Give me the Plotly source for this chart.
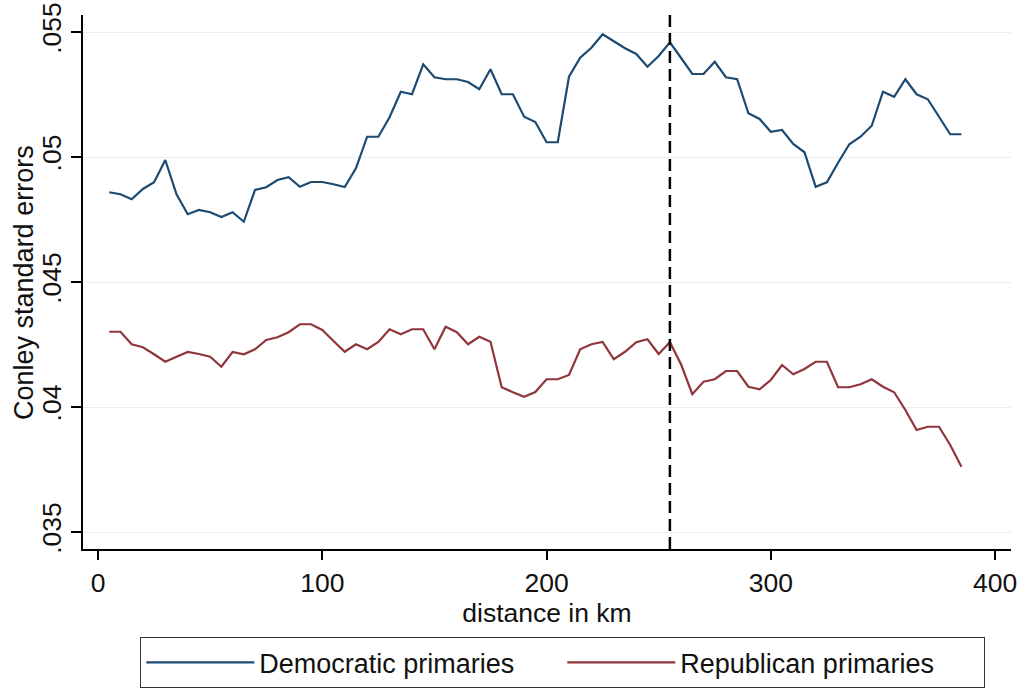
import plotly.graph_objects as go

distance_km = [5, 10, 15, 20, 25, 30, 35, 40, 45, 50, 55, 60, 65, 70, 75, 80, 85, 90, 95, 100,
               105, 110, 115, 120, 125, 130, 135, 140, 145, 150, 155, 160, 165, 170, 175, 180,
               185, 190, 195, 200, 205, 210, 215, 220, 225, 230, 235, 240, 245, 250, 255, 260,
               265, 270, 275, 280, 285, 290, 295, 300, 305, 310, 315, 320, 325, 330, 335, 340,
               345, 350, 355, 360, 365, 370, 375, 380, 385]

democratic_se = [0.04859, 0.04851, 0.04831, 0.04872, 0.04899, 0.04988, 0.04851, 0.04771, 0.04788, 0.04779,
                 0.04760, 0.04779, 0.04741, 0.04868, 0.04879, 0.04908, 0.04919, 0.04881, 0.04900, 0.04900,
                 0.04891, 0.04880, 0.04955, 0.05081, 0.05081, 0.05159, 0.05261, 0.05251, 0.05371, 0.05319,
                 0.05311, 0.05311, 0.05300, 0.05271, 0.05351, 0.05251, 0.05251, 0.05161, 0.05140, 0.05059,
                 0.05059, 0.05321, 0.05397, 0.05437, 0.05491, 0.05464, 0.05435, 0.05412, 0.05361, 0.05404,
                 0.05459, 0.05396, 0.05332, 0.05332, 0.05381, 0.05319, 0.05311, 0.05175, 0.05152, 0.05101,
                 0.05108, 0.05052, 0.05019, 0.04881, 0.04899, 0.04977, 0.05051, 0.05081, 0.05125, 0.05261,
                 0.05241, 0.05311, 0.05251, 0.05231, 0.05161, 0.05091, 0.05091]

republican_se = [0.04301, 0.04301, 0.04251, 0.04239, 0.04211, 0.04181, 0.04201, 0.04220, 0.04212, 0.04201,
                 0.04161, 0.04220, 0.04211, 0.04231, 0.04268, 0.04279, 0.04299, 0.04331, 0.04331, 0.04308,
                 0.04264, 0.04221, 0.04251, 0.04231, 0.04260, 0.04311, 0.04291, 0.04311, 0.04311, 0.04231,
                 0.04321, 0.04299, 0.04251, 0.04281, 0.04261, 0.04079, 0.04059, 0.04041, 0.04060, 0.04111,
                 0.04111, 0.04128, 0.04231, 0.04251, 0.04260, 0.04191, 0.04221, 0.04259, 0.04271, 0.04212,
                 0.04259, 0.04170, 0.04051, 0.04101, 0.04111, 0.04144, 0.04144, 0.04081, 0.04071, 0.04108,
                 0.04168, 0.04131, 0.04152, 0.04181, 0.04181, 0.04079, 0.04079, 0.04091, 0.04111, 0.04081,
                 0.04059, 0.03988, 0.03908, 0.03921, 0.03921, 0.03848, 0.03761]

cutoff_km = 255

x_tick_vals = [0, 100, 200, 300, 400]
y_tick_vals = [0.035, 0.04, 0.045, 0.05, 0.055]
y_tick_text = [".035", ".04", ".045", ".05", ".055"]
y_title = "Conley standard errors"

FONT = "Liberation Sans, Arial, sans-serif"

fig = go.Figure()
fig.add_trace(go.Scatter(x=distance_km, y=democratic_se, mode="lines",
                         name="Democratic primaries",
                         line=dict(color="#1d4a70", width=2.2)))
fig.add_trace(go.Scatter(x=distance_km, y=republican_se, mode="lines",
                         name="Republican primaries",
                         line=dict(color="#90353b", width=2.2)))

fig.add_shape(type="line", x0=cutoff_km, x1=cutoff_km, xref="x", y0=0, y1=1, yref="paper",
              line=dict(color="black", width=2.5, dash="12px,6px"))

# y-axis title placed as a rotated annotation so it sits where the reference has it
fig.add_annotation(text=y_title, xref="paper", yref="paper", x=-0.0636, y=0.5,
                   xanchor="center", yanchor="middle", textangle=-90, showarrow=False,
                   font=dict(size=27, family=FONT, color="#111111"))

fig.update_layout(
    width=1025, height=688,
    margin=dict(l=83, r=14, t=15, b=139, autoexpand=False),
    paper_bgcolor="white", plot_bgcolor="white",
    font=dict(family=FONT, size=26.5, color="#111111"),
    showlegend=True,
    legend=dict(orientation="h", x=0.0614, xanchor="left", y=-0.1648, yanchor="top",
                bordercolor="#333333", borderwidth=1.3, bgcolor="white",
                font=dict(size=27), itemwidth=108, entrywidth=298),
)
fig.update_xaxes(range=[-6.7, 407.1], tickvals=x_tick_vals, showgrid=False, zeroline=False,
                 automargin=False,
                 showline=True, linecolor="black", linewidth=1.5,
                 ticks="outside", ticklen=9, tickwidth=1.5, tickcolor="black",
                 title=dict(text="distance in km", standoff=0, font=dict(size=26.5)))
fig.update_yaxes(range=[0.03432, 0.05568], tickvals=y_tick_vals, ticktext=y_tick_text,
                 tickangle=-90, ticklabeloverflow="allow",
                 showgrid=True, gridcolor="#e9eff1", gridwidth=1.3, zeroline=False,
                 automargin=False,
                 showline=True, linecolor="black", linewidth=1.5,
                 ticks="outside", ticklen=10, tickwidth=1.5, tickcolor="black")

# remove the default page margin so the 1025x688 figure fills the window exactly
fig.write_html("out.html", config={"displayModeBar": False},
               post_script="document.body.style.margin='0';")
